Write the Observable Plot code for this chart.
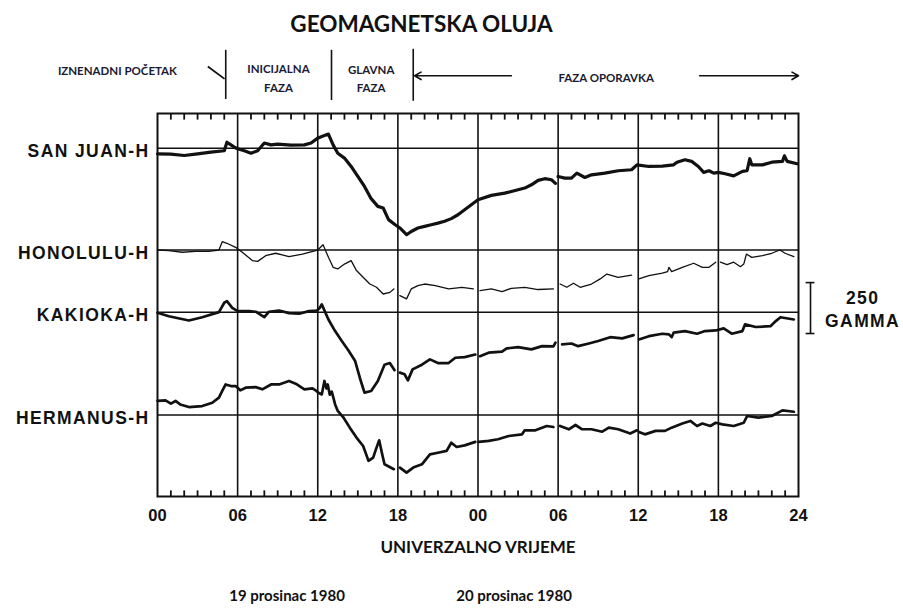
<!DOCTYPE html>
<html><head><meta charset="utf-8">
<script src="https://cdn.jsdelivr.net/npm/d3@7"></script>
<script src="https://cdn.jsdelivr.net/npm/@observablehq/plot@0.6"></script>
<style>
body{margin:0;background:#fff;width:903px;height:608px;overflow:hidden}
#title{height:40px;font:bold 22.5px Lato, sans-serif;color:#111;text-align:center;padding-right:60px;line-height:48px;box-sizing:border-box}
#chart svg{display:block;overflow:visible}
</style></head><body>
<div id="title">GEOMAGNETSKA OLUJA</div>
<div id="chart"></div>
<script>
// ---- data: [hour UT from 19 Dec 00h, deviation from station baseline in gamma] ----
const stationNames = ["SAN JUAN-H", "HONOLULU-H", "KAKIOKA-H", "HERMANUS-H"];
const stationBaseline = [1710, 1210, 905, 400];
const stationStroke = [3.2, 1.3, 2.7, 2.7];

const sanJuan = [[0,-28],[1,-29],[2,-36],[3,-28],[4,-20],[5,-13],[5.2,29],[5.5,16],[5.8,3],[6,-3],[6.5,-13],[7,-25],[7.5,-13],[8,25],[8.5,16],[9,20],[10,15],[11,16],[11.5,25],[12,49],[12.3,57],[12.8,69],[13.15,16],[13.5,-25],[14,-49],[14.5,-90],[15,-139],[15.5,-188],[16,-248],[16.5,-286],[16.9,-294],[17.3,-351],[17.8,-376],[18.15,-392],[18.65,-425],[19,-409],[19.5,-392],[20,-384],[20.5,-376],[21,-368],[21.5,-359],[22,-346],[22.5,-327],[23,-302],[23.5,-278],[24,-253],[25,-232],[26,-221],[27,-204],[27.5,-196],[28,-180],[28.5,-158],[29,-150],[29.5,-155],[29.8,-173],[29.9,null],[30,-139],[30.5,-147],[31,-147],[31.4,-123],[32,-144],[32.5,-131],[33.5,-123],[34.5,-111],[35.5,-106],[35.9,-82],[36.8,-90],[37.8,-88],[38.65,-82],[38.9,-69],[39.5,-57],[40,-65],[40.5,-90],[40.9,-119],[41.3,-111],[41.65,-123],[42,-119],[42.5,-126],[43.15,-136],[43.8,-114],[44.15,-111],[44.35,-52],[44.5,-82],[45.3,-82],[46,-69],[46.8,-65],[46.95,-38],[47.15,-65],[47.9,-77]];

const honolulu = [[0,0],[0.85,-3],[1.85,-11],[2.85,-7],[3.85,-7],[4.6,0],[4.85,41],[5.2,33],[5.85,13],[6.35,-11],[7.1,-52],[7.5,-56],[8.1,-28],[8.85,-16],[9.85,-33],[10.85,-20],[11.85,-3],[12,0],[12.4,26],[12.8,-36],[13.15,-85],[13.5,-93],[14,-69],[14.5,-52],[14.9,-101],[15.4,-134],[15.9,-167],[16.4,-183],[16.9,-216],[17.4,-208],[17.7,-191],[17.9,null],[18.15,-224],[18.65,-240],[19,-191],[19.5,-175],[20,-167],[20.8,-175],[21.8,-191],[22.8,-183],[23.65,-191],[23.9,null],[24.15,-199],[25,-191],[25.8,-204],[26.5,-188],[27.5,-183],[28.5,-194],[29.65,-191],[29.9,null],[30.15,-167],[30.65,-183],[31.15,-163],[31.65,-183],[32.5,-167],[33.15,-142],[33.65,-118],[34.5,-134],[35.5,-123],[35.9,null],[36.05,-142],[36.8,-126],[37.8,-114],[38.2,-106],[38.3,-85],[38.5,-106],[39.3,-85],[40.15,-65],[40.8,-85],[41.3,-85],[41.8,-60],[41.9,null],[42.15,-60],[42.65,-72],[43.15,-60],[43.65,-82],[43.9,-69],[44.1,-20],[44.5,-36],[45.3,-28],[46,-16],[46.6,0],[47,-16],[47.65,-33]];

const kakioka = [[0,-3],[0.85,-20],[2.35,-41],[3.35,-25],[4.6,0],[5,46],[5.2,54],[5.6,21],[6,5],[6.85,5],[7.35,2],[8,-25],[8.35,2],[9.1,8],[9.85,-5],[10.6,-8],[11.35,5],[11.95,8],[12.15,21],[12.3,38],[12.8,-36],[13.3,-93],[13.8,-142],[14.3,-188],[14.8,-240],[15.15,-322],[15.5,-395],[16,-387],[16.5,-338],[17,-258],[17.4,-250],[17.75,-285],[17.9,null],[18.15,-297],[18.5,-305],[18.75,-335],[19.1,-281],[19.8,-258],[20.4,-232],[21,-250],[21.8,-250],[22.3,-224],[23,-221],[23.8,-208],[23.95,null],[24.15,-216],[24.8,-199],[25.8,-194],[26.15,-178],[27,-172],[28,-183],[28.8,-167],[29.65,-168],[29.8,-150],[29.9,null],[30.3,-158],[31,-154],[31.5,-167],[32.3,-154],[33,-142],[33.9,-123],[34.8,-129],[35.65,-113],[35.9,null],[36.05,-134],[36.8,-118],[37.8,-106],[38.3,-109],[38.5,-123],[38.65,-101],[39.5,-93],[40.4,-106],[41,-93],[41.8,-90],[42.4,-80],[43,-106],[43.8,-93],[44,-60],[44.8,-73],[45.9,-69],[46.3,-44],[46.65,-25],[47.65,-36]];

const hermanus = [[0,69],[0.6,72],[1,56],[1.35,69],[1.7,52],[2.35,39],[3.35,44],[4.1,60],[4.6,85],[4.85,118],[5.1,150],[5.5,142],[5.85,142],[6.2,121],[6.6,134],[7.35,137],[7.85,126],[8.5,150],[9.1,150],[9.85,167],[10.35,154],[11,126],[11.6,131],[11.9,118],[12.05,109],[12.3,101],[12.5,167],[12.65,130],[12.75,150],[12.9,100],[13.05,115],[13.3,52],[13.5,20],[13.9,-10],[14.4,-62],[14.9,-111],[15.4,-152],[15.8,-225],[16.15,-209],[16.4,-160],[16.6,-124],[16.8,-185],[17,-242],[17.7,-266],[17.9,null],[18.15,-258],[18.65,-283],[19.15,-258],[19.8,-242],[20.4,-193],[21,-185],[21.65,-176],[22,-136],[22.4,-157],[23,-149],[23.8,-132],[23.9,null],[24.05,-132],[24.8,-127],[25.5,-119],[26.3,-103],[27.3,-95],[27.5,-75],[28.3,-75],[29.15,-54],[29.65,-59],[29.9,null],[30.15,-54],[30.8,-70],[31.3,-49],[31.8,-70],[32.5,-70],[33.3,-82],[33.8,-62],[34.5,-70],[35.4,-91],[35.9,-75],[35.95,null],[36.05,-83],[36.5,-95],[37.3,-78],[38,-78],[38.5,-62],[39.3,-42],[39.9,-29],[40.4,-54],[40.8,-42],[41.4,-54],[41.8,-38],[42.3,-46],[43.15,-54],[43.9,-38],[44.15,-5],[45,-13],[46,-5],[46.8,23],[47.65,16]];

const stationSeries = [sanJuan, honolulu, kakioka, hermanus];

const hourLabelAt = [0, 6, 12, 18, 24, 30, 36, 42, 48];
const hourLabels = ["00", "06", "12", "18", "00", "06", "12", "18", "24"];
const axisTitle = ["UNIVERZALNO VRIJEME"];
const dayLabels = ["19 prosinac 1980", "20 prosinac 1980"];
const dayLabelAt = [9.7, 26.7];

// storm phase annotations (hour, level in gamma above the panel)
const phaseNames = ["IZNENADNI POČETAK", "INICIJALNA\nFAZA", "GLAVNA\nFAZA", "FAZA OPORAVKA"];
const phaseNameAt = [-3.0, 9.06, 16.0, 33.6];
const phaseNameLevel = [2096, 2062, 2058, 2064];
const phaseDividerAt = [5.11, 13.03, 19.15];
const phaseDividerTop = [2190, 2190, 2195];
const phaseDividerBottom = [1949, 1944, 1940];
const commencementSlash = [{h1: 3.77, g1: 2111, h2: 5.02, g2: 2050}];
const phaseArrows = [{from: 26.5, to: 19.25, g: 2065}, {from: 40.6, to: 48, g: 2065}];

// scale bar
const scaleBarGamma = [800, 1050];
const scaleBarAt = 48.9;
const scaleText = ["250\nGAMMA"];

// ---- build ----
const yMax = 1880;
const tickLen = 30;
const majorHours = d3.range(6, 48, 6);
const minorHours = d3.range(1, 48).filter(h => h % 6 !== 0);
const topTicks = minorHours.map(h => ({h, a: yMax - tickLen, b: yMax}));
const bottomTicks = minorHours.map(h => ({h, a: 0, b: tickLen}));
const ink = "#111";

const lineMarks = stationSeries.map((s, i) => Plot.line(s, {
  x: d => d[0],
  y: d => d[1] == null ? NaN : stationBaseline[i] + d[1],
  stroke: ink, strokeWidth: stationStroke[i], strokeLinejoin: "round", strokeLinecap: "round"
}));

const stationRows = stationNames.map((n, i) => ({name: n, g: stationBaseline[i]}));
const phaseRows = phaseNames.map((n, i) => ({name: n, h: phaseNameAt[i], g: phaseNameLevel[i]}));
const dividerRows = phaseDividerAt.map((h, i) => ({h, top: phaseDividerTop[i], bottom: phaseDividerBottom[i]}));

const chart = Plot.plot({
  width: 903, height: 568,
  marginTop: 73, marginBottom: 112, marginLeft: 157, marginRight: 105,
  x: {domain: [0, 48]},
  y: {domain: [0, yMax], axis: null},
  style: {fontFamily: "'Liberation Sans', Arial, sans-serif", fontSize: "16px", fontWeight: "bold", color: ink, background: "white", overflow: "visible"},
  marks: [
    Plot.ruleX(majorHours, {stroke: ink, strokeWidth: 1.6}),
    Plot.ruleY(stationBaseline, {stroke: ink, strokeWidth: 1.5}),
    Plot.frame({stroke: ink, strokeWidth: 2}),
    ...lineMarks,
    Plot.link(topTicks, {x1: "h", x2: "h", y1: "a", y2: "b", stroke: ink, strokeWidth: 1.8}),
    Plot.link(bottomTicks, {x1: "h", x2: "h", y1: "a", y2: "b", stroke: ink, strokeWidth: 1.8}),
    Plot.text(stationRows, {y: "g", text: "name", frameAnchor: "left", textAnchor: "end", dx: -8, dy: 3, fontSize: 17.5, fill: ink}),
    Plot.axisX(hourLabelAt, {tickSize: 0, tickPadding: 13, tickFormat: d => hourLabels[hourLabelAt.indexOf(d)], fontSize: 16.5, label: null}),
    Plot.text(axisTitle, {x: 24, frameAnchor: "bottom", dy: 56, fontFamily: "Lato, sans-serif", fontSize: 17, fill: ink}),
    Plot.text(dayLabels, {x: (d, i) => dayLabelAt[i], frameAnchor: "bottom", dy: 104, fontFamily: "Lato, sans-serif", fontSize: 15, fill: ink}),
    // phase header
    Plot.ruleX(dividerRows, {x: "h", y1: "bottom", y2: "top", stroke: ink, strokeWidth: 1.6}),
    Plot.link(commencementSlash, {x1: "h1", y1: "g1", x2: "h2", y2: "g2", stroke: ink, strokeWidth: 1.8}),
    Plot.arrow(phaseArrows, {x1: "from", x2: "to", y1: "g", y2: "g", stroke: ink, strokeWidth: 1.6, headLength: 7, bend: 0}),
    Plot.text(phaseRows, {x: "h", y: "g", text: "name", fontFamily: "Lato, sans-serif", fontSize: 11.5, lineHeight: 1.6, fill: "#1a1a33"}),
    // scale bar
    Plot.ruleX([scaleBarAt], {y1: scaleBarGamma[0], y2: scaleBarGamma[1], stroke: ink, strokeWidth: 1.6}),
    Plot.ruleY(scaleBarGamma, {x1: scaleBarAt - 0.33, x2: scaleBarAt + 0.33, stroke: ink, strokeWidth: 1.6}),
    Plot.text(scaleText, {x: 52.8, y: (scaleBarGamma[0] + scaleBarGamma[1]) / 2, fontSize: 17.5, lineHeight: 1.3, fill: ink})
  ]
});
document.getElementById("chart").appendChild(chart);
// wide letter spacing of the original station / scale labels
d3.select(chart).selectAll("text").each(function () {
  const t = this.textContent;
  if (stationNames.includes(t) || t === "250GAMMA" || t === "250" || t === "GAMMA") this.style.letterSpacing = "1.4px";
});
</script></body></html>
